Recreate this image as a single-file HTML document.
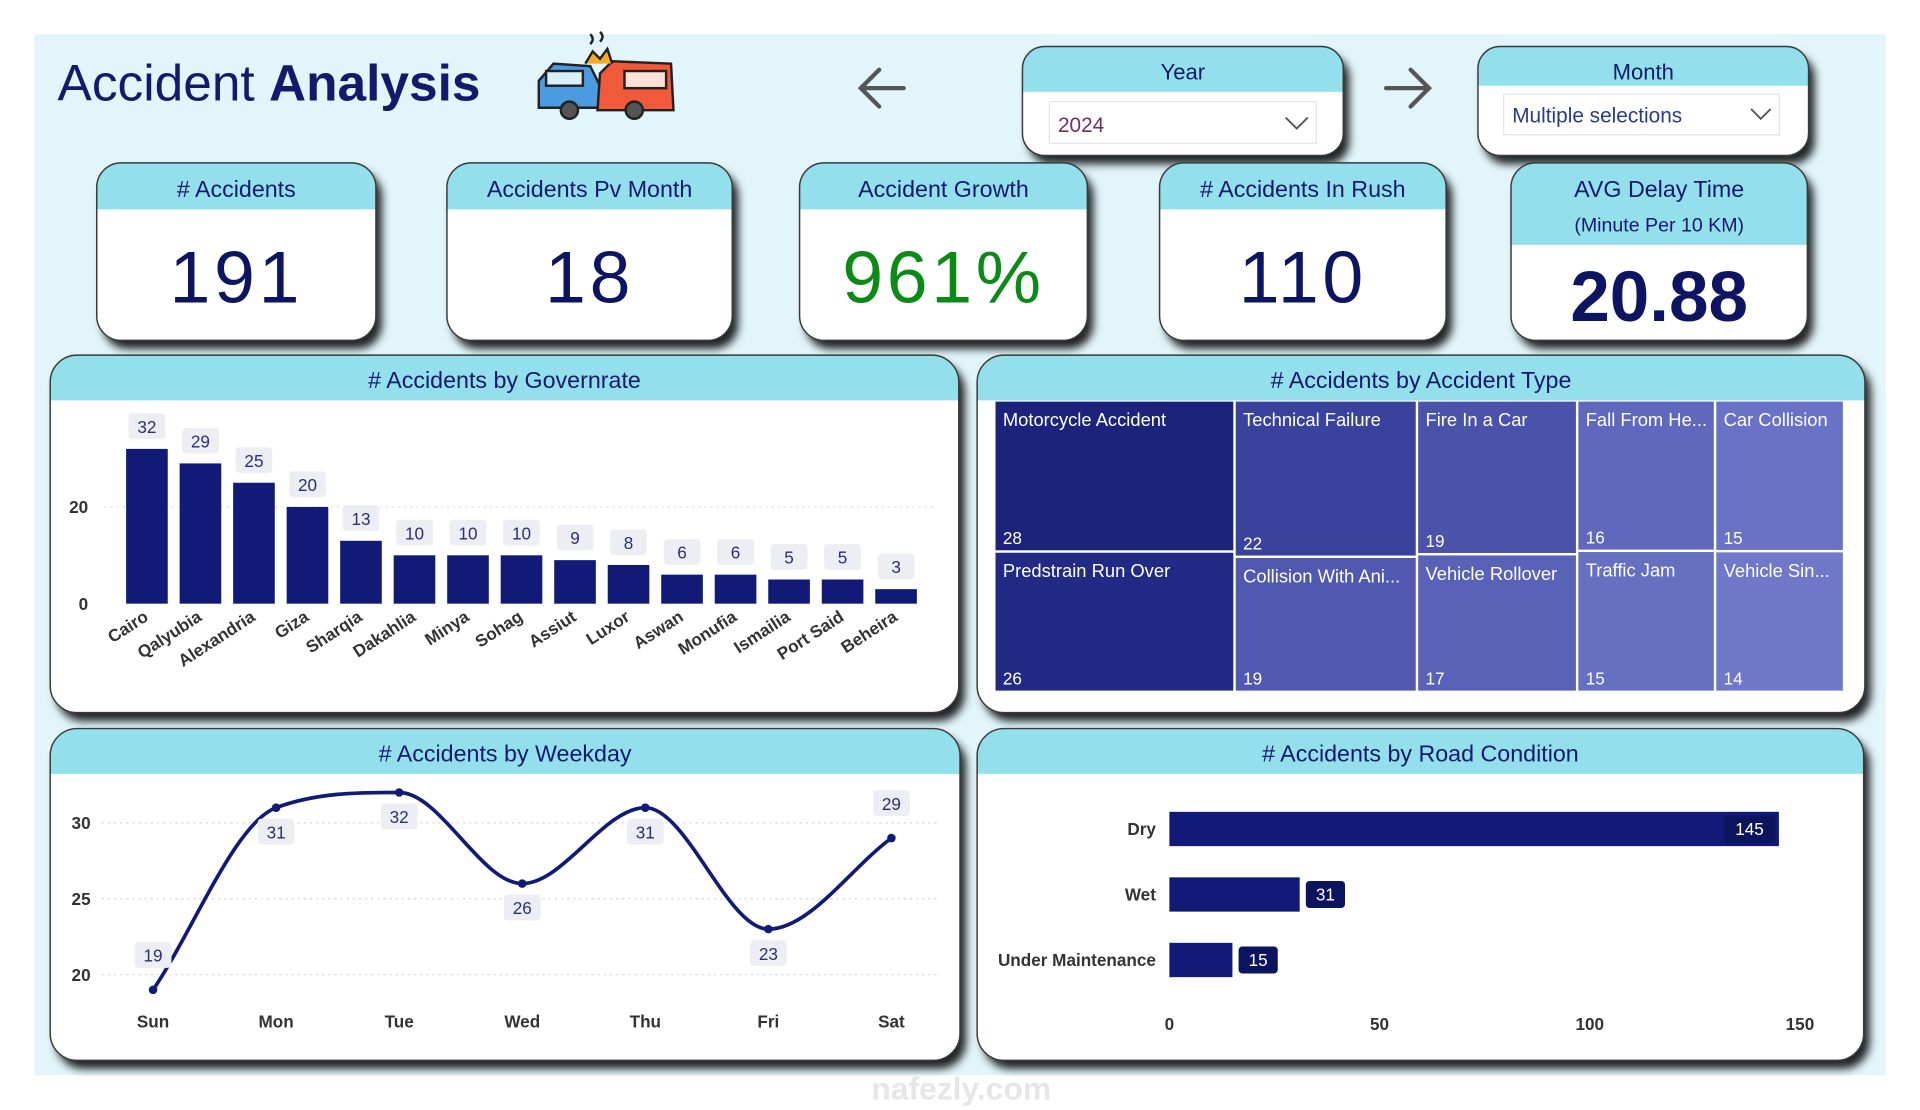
<!DOCTYPE html>
<html><head><meta charset="utf-8"><title>Accident Analysis</title>
<style>
html,body{margin:0;padding:0;background:#fff;width:1920px;height:1110px;overflow:hidden}
svg{display:block;font-family:"Liberation Sans",sans-serif}
</style></head>
<body>
<svg id="dash" width="1920" height="1110" viewBox="0 0 1568 906.5" xmlns="http://www.w3.org/2000/svg">
<defs>
<filter id="sh" x="-10%" y="-10%" width="125%" height="130%"><feDropShadow dx="5" dy="7" stdDeviation="3.5" flood-color="#000" flood-opacity="0.85"/></filter>
</defs>
<rect x="28" y="28" width="1512" height="850" fill="#e1f5fa"/>
<text x="47" y="82" font-size="42" fill="#141a6b">Accident <tspan font-weight="bold">Analysis</tspan></text>
<g stroke="#222" stroke-width="2">
 <path d="M440 88 L440 66 L452 52 L482 54 L490 70 L492 88 Z" fill="#4a9be0"/>
 <rect x="446" y="58" width="30" height="12" fill="#d9f0ff"/>
 <path d="M488 90 L490 60 L500 50 L548 52 L550 90 Z" fill="#f05a3a"/>
 <rect x="510" y="58" width="34" height="14" fill="#fde0d8"/>
 <circle cx="465" cy="90" r="7" fill="#555"/><circle cx="518" cy="90" r="7" fill="#555"/>
 <path d="M478 52 L484 42 L490 48 L496 40 L500 52" fill="#f9a825"/>
 <path d="M482 36 q4 -4 0 -8 M490 34 q4 -4 0 -8" fill="none"/>
</g>
<g stroke="#555" stroke-width="3.5" fill="none" stroke-linecap="round"><path d="M738 72 H704 M718 57 L703 72 L718 87"/></g>
<g stroke="#555" stroke-width="3.5" fill="none" stroke-linecap="round"><path d="M1132 72 H1166 M1152 57 L1167 72 L1152 87"/></g>
<g id="panels"></g>
<g id="gov"></g>
<g id="tree"></g>
<g id="week"></g>
<g id="road"></g>
<text x="785" y="898" font-size="26" font-weight="bold" fill="#e6e6e6" text-anchor="middle">nafezly.com</text>
</svg>
<script>
const NS='http://www.w3.org/2000/svg';
function mk(tag,attrs,parent,txt){const e=document.createElementNS(NS,tag);for(const k in attrs)e.setAttribute(k,attrs[k]);if(txt!==undefined)e.textContent=txt;parent.appendChild(e);return e;}
const panels=document.getElementById('panels');
let clipN=0;
function panel(x,y,w,h,hh,r,name,title,tsize,tY){
 const g=mk('g',{},panels);
 
 
 mk('rect',{x:x,y:y,width:w,height:h,rx:r,fill:'#fff',filter:'url(#sh)'},g);
 const id='c'+(clipN++);
 const cp=mk('clipPath',{id:id},g);mk('rect',{x:x,y:y,width:w,height:h,rx:r},cp);
 mk('rect',{x:x,y:y,width:w,height:hh,fill:'#93e0ec','clip-path':'url(#'+id+')'},g);
 mk('rect',{x:x,y:y,width:w,height:h,rx:r,fill:'none',stroke:'#3a3a3a','stroke-width':1.2},g);
 if(title){const t=mk('text',{x:x+w/2,y:tY||(y+hh/2+7),'font-size':tsize||19,fill:'#141a6b','text-anchor':'middle'},g,title);
 
 }
 return g;
}
let g=panel(835,38,262,89,37,18,'year-slicer','Year',18,65);
let dd=mk('g',{},g);


mk('rect',{x:857,y:83,width:218,height:34,fill:'#fff',stroke:'#e4e4e4'},dd);
mk('text',{x:864,y:108,'font-size':17,fill:'#7a2d5c'},dd,'2024');
mk('path',{d:'M1050 96 L1059 105 L1068 96',fill:'none',stroke:'#555','stroke-width':1.5},dd);
g=panel(1207,38,270,89,32,18,'month-slicer','Month',18,65);
dd=mk('g',{},g);


mk('rect',{x:1228,y:77,width:225,height:33,fill:'#fff',stroke:'#e4e4e4'},dd);
mk('text',{x:1235,y:100,'font-size':17,fill:'#2b3a8c'},dd,'Multiple selections');
mk('path',{d:'M1430 89 L1438 97 L1446 89',fill:'none',stroke:'#555','stroke-width':1.5},dd);
const cards=[[79,228,'# Accidents','191','#0d1462','accidents-card'],[365,233,'Accidents Pv Month','18','#0d1462','prev-month-card'],[653,235,'Accident Growth','961%','#0b8a16','growth-card'],[947,234,'# Accidents In Rush','110','#0d1462','rush-card']];
cards.forEach(c=>{const gg=panel(c[0],133,c[1],145,38,20,c[5],c[2],19,161);
 const v=mk('text',{x:c[0]+c[1]/2,y:247,'font-size':60,fill:c[4],'text-anchor':'middle','letter-spacing':'3'},gg,c[3]);
 
 });
g=panel(1234,133,242,145,67,20,'avg-delay-card','AVG Delay Time',19,161);
mk('text',{x:1355,y:189,'font-size':16,fill:'#141a6b','text-anchor':'middle'},g,'(Minute Per 10 KM)');
let v=mk('text',{x:1355,y:262,'font-size':58,'font-weight':'bold',fill:'#0d1462','text-anchor':'middle'},g,'20.88');


panel(41,290,742,292,37,22,'governorate-panel','# Accidents by Governrate',19,317);
panel(798,290,725,292,37,22,'accident-type-panel','# Accidents by Accident Type',19,317);
panel(41,595,743,271,37,22,'weekday-panel','# Accidents by Weekday',19,622);
panel(798,595,724,271,37,22,'road-condition-panel','# Accidents by Road Condition',19,622);

const govNames=['Cairo','Qalyubia','Alexandria','Giza','Sharqia','Dakahlia','Minya','Sohag','Assiut','Luxor','Aswan','Monufia','Ismailia','Port Said','Beheira'];
const govValues=[32,29,25,20,13,10,10,10,9,8,6,6,5,5,3];
const govTicks=[0,20];
(function(){
 const G=document.getElementById('gov');
 const y=v=>493-v*3.95, x=i=>120+i*43.7;
 govTicks.forEach(t=>{
  if(t>0){const l=mk('line',{x1:85,x2:765,y1:y(t),y2:y(t),stroke:'#ddd','stroke-dasharray':'2 3'},G);
  
  }
  const tt=mk('text',{x:72,y:y(t)+5,'font-size':14,'font-weight':'bold',fill:'#333','text-anchor':'end'},G,t);
  
  
 });
 govValues.forEach((val,i)=>{
  const b=mk('rect',{x:x(i)-17,y:y(val),width:34,height:val*3.95,fill:'#121a78'},G);
  
  
  const bx=mk('rect',{x:x(i)-15,y:y(val)-29,width:30,height:21,rx:3,fill:'#eceef3'},G);
  
  
  const lt=mk('text',{x:x(i),y:y(val)-13,'font-size':14,fill:'#2a2f7a','text-anchor':'middle'},G,val);
  
  
  const cx=x(i)+2, cy=506;
  const xl=mk('text',{x:cx,y:cy,'font-size':14,'font-weight':'bold',fill:'#333','text-anchor':'end',transform:'rotate(-33 '+cx+' '+cy+')'},G,govNames[i]);
  
  
 });
})();

const typeCols=[['Motorcycle Accident','Predstrain Run Over'],['Technical Failure','Collision With Ani...'],['Fire In a Car','Vehicle Rollover'],['Fall From He...','Traffic Jam'],['Car Collision','Vehicle Sin...']];
const typeVals=[[28,26],[22,19],[19,17],[16,15],[15,14]];
const typeColors=[['#1b237a','#212a84'],['#39439b','#5058b0'],['#4a53a9','#5a62b8'],['#5f68bc','#6570c1'],['#6972c5','#6f78c9']];
(function(){
 const T=document.getElementById('tree');
 const X0=813,Y0=328,W=694,H=238;
 const total=typeVals.flat().reduce((a,b)=>a+b,0);
 let cx=X0;
 typeVals.forEach((col,ci)=>{
  const s=col[0]+col[1];const w=W*s/total;let cy=Y0;
  col.forEach((val,ri)=>{
   const h=H*val/s;
   const r=mk('rect',{x:cx,y:cy,width:w-2,height:h-2,fill:typeColors[ci][ri]},T);
   
   
   const n=mk('text',{x:cx+6,y:cy+20,'font-size':15,fill:'#fff'},T,typeCols[ci][ri]);
   
   
   const vv=mk('text',{x:cx+6,y:cy+h-7,'font-size':14,fill:'#fff'},T,val);
   
   
   cy+=h;
  });
  cx+=w;
 });
})();

const days=['Sun','Mon','Tue','Wed','Thu','Fri','Sat'];
const dayValues=[19,31,32,26,31,23,29];
const dayTicks=[20,25,30];
(function(){
 const Wg=document.getElementById('week');
 const y=v=>796-(v-20)*12.4, x=i=>125+i*100.5;
 dayTicks.forEach(t=>{
  const l=mk('line',{x1:83,x2:765,y1:y(t),y2:y(t),stroke:'#d8d8d8','stroke-dasharray':'2 3'},Wg);
  
  
  const tt=mk('text',{x:74,y:y(t)+5,'font-size':14,'font-weight':'bold',fill:'#333','text-anchor':'end'},Wg,t);
  
  
 });
 // monotone cubic (Fritsch-Carlson) through points
 const P=dayValues.map((v,i)=>[x(i),y(v)]);
 const n=P.length, dlt=[], m=[];
 for(let i=0;i<n-1;i++)dlt.push((P[i+1][1]-P[i][1])/(P[i+1][0]-P[i][0]));
 for(let i=0;i<n;i++){
  if(i===0)m.push(dlt[0]);else if(i===n-1)m.push(dlt[n-2]);
  else m.push(dlt[i-1]*dlt[i]<=0?0:(dlt[i-1]+dlt[i])/2);
 }
 for(let i=0;i<n-1;i++){if(dlt[i]===0){m[i]=0;m[i+1]=0;continue;}
  const a=m[i]/dlt[i],b=m[i+1]/dlt[i],s=a*a+b*b;if(s>9){const t=3/Math.sqrt(s);m[i]=t*a*dlt[i];m[i+1]=t*b*dlt[i];}}
 let d='M'+P[0][0]+' '+P[0][1];
 for(let i=0;i<n-1;i++){const h=(P[i+1][0]-P[i][0])/3;
  d+=' C'+(P[i][0]+h)+' '+(P[i][1]+m[i]*h)+' '+(P[i+1][0]-h)+' '+(P[i+1][1]-m[i+1]*h)+' '+P[i+1][0]+' '+P[i+1][1];}
 const line=mk('path',{d:d,fill:'none',stroke:'#121a78','stroke-width':3},Wg);
 
 
 dayValues.forEach((val,i)=>{
  const c=mk('circle',{cx:x(i),cy:y(val),r:3.5,fill:'#121a78'},Wg);
  
  
  const above=(i===0||i===dayValues.length-1);
  const ly=above?y(val)-24:y(val)+24;
  const bx=mk('rect',{x:x(i)-15,y:ly-15,width:30,height:21,rx:3,fill:'#eceef3'},Wg);
  
  
  const lt=mk('text',{x:x(i),y:ly+1,'font-size':14,fill:'#2a2f7a','text-anchor':'middle'},Wg,val);
  
  
  const xl=mk('text',{x:x(i),y:839,'font-size':14,'font-weight':'bold',fill:'#333','text-anchor':'middle'},Wg,days[i]);
  
  
 });
})();

const roadCats=['Dry','Wet','Under Maintenance'];
const roadValues=[145,31,15];
const roadTicks=[0,50,100,150];
(function(){
 const R=document.getElementById('road');
 const x=v=>955+v*3.433, yc=i=>677+i*53.5;
 roadTicks.forEach(t=>{
  const tt=mk('text',{x:x(t),y:841,'font-size':14,'font-weight':'bold',fill:'#333','text-anchor':'middle'},R,t);
  
  
 });
 roadValues.forEach((val,i)=>{
  const b=mk('rect',{x:955,y:yc(i)-14,width:x(val)-955,height:28,fill:'#121a78'},R);
  
  
  const inside=(x(val)-955)>200;
  const bxX=inside?x(val)-45:x(val)+5;
  const bx=mk('rect',{x:bxX,y:yc(i)-11,width:inside?42:32,height:22,rx:3,fill:'#0c145e'},R);
  
  
  const lt=mk('text',{x:bxX+(inside?21:16),y:yc(i)+5,'font-size':14,fill:'#fff','text-anchor':'middle'},R,val);
  
  
  const cl=mk('text',{x:944,y:yc(i)+5,'font-size':14,'font-weight':'bold',fill:'#333','text-anchor':'end'},R,roadCats[i]);
  
  
 });
})();
</script>
</body></html>
